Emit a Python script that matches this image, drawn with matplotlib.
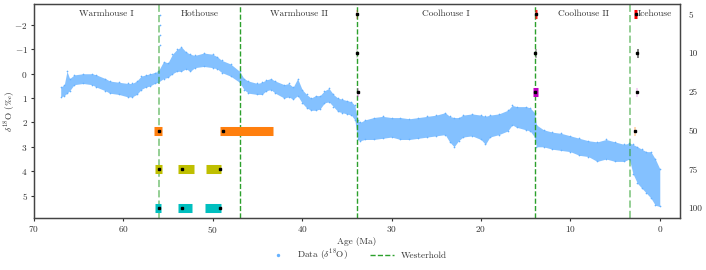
import matplotlib
matplotlib.use("Agg")
import matplotlib.pyplot as plt
import numpy as np

plt.rcParams['font.family'] = ['cmr10', 'DejaVu Serif']
plt.rcParams['mathtext.fontset'] = 'cm'
plt.rcParams['axes.formatter.use_mathtext'] = True
plt.rcParams['font.size'] = 6.7
for k in ['text.color', 'axes.labelcolor', 'xtick.color', 'ytick.color']:
    plt.rcParams[k] = '#333333'

# d18O band (lower / upper edge of the point cloud)
age = [67.0, 66.6, 66.3, 66.0, 65.5, 64.5, 63.5, 63.0, 62.0, 61.5, 60.5, 59.5,
       59.0, 58.5, 58.0, 57.5, 57.0, 56.5, 56.1, 55.5, 55.0, 54.5, 54.0, 53.5,
       53.0, 52.5, 52.0, 51.0, 50.0, 49.5, 49.0, 48.0, 47.0, 46.5, 46.0, 45.0,
       44.5, 44.0, 43.5, 43.0, 42.0, 41.5, 41.0, 40.5, 40.0, 39.5, 39.0, 38.5,
       38.0, 37.5, 37.0, 36.5, 36.0, 35.5, 35.0, 34.5, 34.1, 33.8, 33.5, 33.0,
       32.0, 31.0, 30.0, 29.0, 28.0, 27.0, 26.0, 25.0, 24.0, 23.5, 23.0, 22.5,
       22.0, 21.0, 20.0, 19.5, 19.0, 18.0, 17.0, 16.5, 16.0, 15.0, 14.5, 14.0,
       13.8, 13.0, 12.0, 11.0, 10.0, 9.0, 8.0, 7.0, 6.0, 5.0, 4.0, 3.4,
       3.0, 2.5, 2.0, 1.5, 1.0, 0.5, 0.0]
d18o_lo = [0.55, 0.45, -0.1, 0.2, 0.05, 0.0, 0.0, 0.05, 0.2, 0.3, 0.35, 0.4,
           0.4, 0.3, 0.1, 0.05, 0.0, -0.05, -0.1, -0.5, -0.45, -0.8, -1.0, -1.1,
           -0.9, -0.8, -0.75, -0.85, -0.8, -0.7, -0.55, -0.4, -0.1, 0.2, 0.3, 0.4,
           0.35, 0.25, 0.2, 0.3, 0.45, 0.4, 0.55, 0.2, 0.65, 0.85, 1.0, 0.9,
           0.9, 0.7, 0.6, 0.85, 1.0, 1.05, 1.1, 1.15, 1.3, 1.9, 2.0, 1.9,
           1.8, 1.75, 1.8, 1.8, 1.85, 1.8, 1.75, 1.7, 1.6, 1.75, 1.8, 1.8,
           1.7, 1.65, 1.7, 1.75, 1.7, 1.65, 1.5, 1.3, 1.35, 1.35, 1.4, 1.6,
           2.1, 2.3, 2.4, 2.45, 2.55, 2.65, 2.75, 2.8, 2.7, 2.8, 2.9, 2.85,
           2.9, 3.0, 3.1, 3.2, 3.2, 3.5, 3.9]
d18o_hi = [0.95, 0.9, 0.8, 0.7, 0.45, 0.4, 0.45, 0.55, 0.7, 0.8, 0.85, 0.95,
           0.95, 0.85, 0.65, 0.55, 0.5, 0.4, 0.35, 0.2, 0.15, 0.0, -0.1, -0.1,
           -0.2, -0.1, -0.25, -0.3, -0.25, -0.2, -0.05, 0.1, 0.35, 0.65, 0.8, 0.85,
           0.85, 0.7, 0.65, 0.8, 1.0, 0.95, 1.05, 0.9, 1.2, 1.4, 1.5, 1.5,
           1.45, 1.2, 1.15, 1.35, 1.55, 1.6, 1.65, 1.7, 1.9, 2.7, 2.75, 2.7,
           2.7, 2.65, 2.6, 2.7, 2.7, 2.65, 2.6, 2.55, 2.5, 2.8, 3.0, 2.75,
           2.6, 2.55, 2.7, 2.9, 2.6, 2.5, 2.35, 2.1, 2.2, 2.3, 2.35, 2.6,
           3.0, 3.0, 3.1, 3.15, 3.2, 3.35, 3.4, 3.6, 3.5, 3.6, 3.6, 3.5,
           4.1, 4.5, 4.7, 4.9, 5.1, 5.4, 5.45]
# PETM excursion points
petm_age = [55.95, 55.9, 55.85, 55.9]
petm_d18o = [-2.4, -2.0, -1.6, -1.2]

# regime boundaries (Westerhold)
westerhold = [56.0, 47.0, 33.9, 13.9, 3.3]
phases = ['Warmhouse I', 'Hothouse', 'Warmhouse II', 'Coolhouse I', 'Coolhouse II', 'Icehouse']
phase_x = [61.9, 51.5, 40.4, 23.9, 8.5, 0.6]

# detected change points per window size
windows = ['5', '10', '25', '50', '75', '100']
win_colors = ['r', 'k', 'm', '#ff7f0e', 'y', 'c']
cp_row = [0, 0, 0, 1, 1, 1, 2, 2, 2, 3, 3, 3, 4, 4, 4, 5, 5, 5]
cp_age = [33.9, 13.85, 2.7, 33.9, 13.9, 2.5, 33.8, 13.9, 2.6,
          56.0, 48.8, 2.8, 56.0, 53.45, 49.2, 56.05, 53.45, 49.2]
cp_err_young = [0.08, 0.1, 0.17, 0.08, 0.1, 0.05, 0.1, 0.28, 0.1,
                0.3, 5.5, 0.05, 0.3, 1.35, 0.15, 0.25, 1.15, 0.15]
cp_err_old = [0.08, 0.1, 0.17, 0.08, 0.1, 0.05, 0.1, 0.28, 0.1,
              0.6, 0.4, 0.05, 0.4, 0.45, 1.6, 0.35, 0.45, 1.7]
cp_alpha = [0.35, 0.85, 1.0, 0.2, 0.6, 1.0, 0.45, 1.0, 0.35,
            1.0, 1.0, 0.6, 1.0, 1.0, 1.0, 1.0, 1.0, 1.0]

fig = plt.figure(figsize=(7.06, 2.7), dpi=100)
ax = fig.add_axes([0.048, 0.192, 0.915, 0.792])
blue = '#66b2ff'
ax.fill_between(age, d18o_lo, d18o_hi, color=blue, lw=0, alpha=0.8)
ax.scatter(age + age, d18o_lo + d18o_hi, s=1.5, color=blue, lw=0,
           label=r'Data ($\delta^{18}$O)')
ax.scatter(petm_age, petm_d18o, s=1.5, color=blue, lw=0)

for i, b in enumerate(westerhold):
    a = 0.5 if i in (0, 4) else 1.0
    lw = 1.4 if i in (0, 4) else 1.0
    ax.axvline(b, color='#2ca02c', ls='--', lw=lw, alpha=a,
               label='Westerhold' if i == 1 else None)

for name, x in zip(phases, phase_x):
    ax.text(x, -2.45, name, ha='center', va='center', fontsize=6.7)

ax.set_xlim(70, -2.25)
ax.set_ylim(5.93, -2.85)
ax.set_xlabel('Age (Ma)', labelpad=1)
ax.set_ylabel(r'$\delta^{18}$O ($\perthousand$)')
ax.yaxis.set_label_coords(-0.025, 0.5)
ax.tick_params(length=2.5, width=0.8, pad=2)

ax2 = ax.twinx()
for r, x, ey, eo, a in zip(cp_row, cp_age, cp_err_young, cp_err_old, cp_alpha):
    ax2.errorbar([x], [r], xerr=[[ey], [eo]], fmt='none', ecolor=win_colors[r],
                 elinewidth=6.5, alpha=a, zorder=3)
ax2.plot(cp_age, cp_row, 's', color='k', ms=1.8, zorder=4)
ax2.set_ylim(5.26, -0.26)
ax2.set_yticks(range(len(windows)))
ax2.set_yticklabels(windows)
ax2.tick_params(length=0, pad=6)

for a_ in (ax, ax2):
    for s in a_.spines.values():
        s.set_color('#444444')
        s.set_linewidth(0.9)

h1, l1 = ax.get_legend_handles_labels()
ax.legend(h1, l1, loc='center', bbox_to_anchor=(0.5, -0.172), ncol=2,
          frameon=False, markerscale=2, columnspacing=2.4, handlelength=2.5,
          borderpad=0.1)

fig.savefig('out.png', dpi=100)
